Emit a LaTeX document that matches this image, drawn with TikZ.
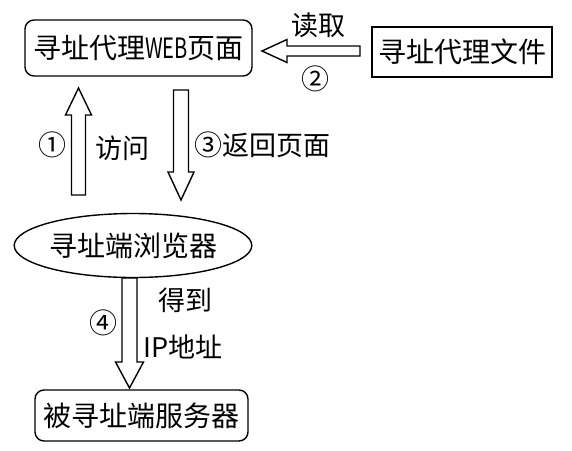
\documentclass[tikz,border=0pt]{standalone}
\usepackage{fontspec}
\setmainfont{Noto Sans CJK SC}
\usetikzlibrary{calc,shapes.geometric}
% #1 tail, #2 tip, #3 shaft half width, #4 head half width, #5 head length
\newcommand\blockarrow[5]{%
  \coordinate (bah) at ($(#2)!#5!(#1)$);
  \draw[arrowline] ($(#1)!#3!90:(#2)$) -- ($(bah)!#3!90:(#2)$) -- ($(bah)!#4!90:(#2)$)
    -- (#2) -- ($(bah)!#4!-90:(#2)$) -- ($(bah)!#3!-90:(#2)$) -- ($(#1)!#3!-90:(#2)$) -- cycle;}
\begin{document}
\begin{tikzpicture}[x=1pt,y=1pt,
  box/.style={draw, line width=1.4pt, font=\fontsize{28}{30}\selectfont, inner sep=0pt},
  lbl/.style={font=\fontsize{27}{30}\selectfont, inner sep=0pt},
  num/.style={font=\fontsize{28}{30}\selectfont, inner sep=0pt},
  arrowline/.style={draw, line width=1.4pt, line join=miter}]
\useasboundingbox (0,0) rectangle (572,-450);
\node[box, rounded corners=9pt, minimum width=227pt, minimum height=56pt] (web) at (138.5,-48) {寻址代理\scalebox{0.72}[1]{WEB}页面};
\node[box, minimum width=180pt, minimum height=50pt] (file) at (462,-52) {寻址代理文件};
\node[box, ellipse, minimum width=220pt, minimum height=64pt] (ell) at (133,-245.5) {寻址端浏览器};
\node[box, rounded corners=9pt, minimum width=213pt, minimum height=51pt] (srv) at (141.5,-415.5) {被寻址端服务器};
% connector end points
\coordinate (a2s) at (360,-51);
\coordinate (a2e) at (262,-51);
\coordinate (a1s) at (78.5,-195);
\coordinate (a1e) at (78.5,-88);
\coordinate (a3s) at (181,-90);
\coordinate (a3e) at (181,-200);
\coordinate (a4s) at (129.5,-278);
\coordinate (a4e) at (129.5,-388);
\blockarrow{a2s}{a2e}{5pt}{11.5pt}{25pt}
\blockarrow{a1s}{a1e}{7pt}{13pt}{27pt}
\blockarrow{a3s}{a3e}{7.5pt}{13pt}{28pt}
\blockarrow{a4s}{a4e}{7.5pt}{14pt}{26pt}
% labels
\node[lbl] (l2) at (318,-25) {读取};
\node[num] (n2) at (315,-79) {②};
\node[num] (n1) at (52,-145) {①};
\node[lbl] (l1) at (122,-148) {访问};
\node[lbl, anchor=west] (l3) at (194,-145) {{\fontsize{28}{30}\selectfont ③}返回页面};
\node[num] (n4) at (103,-323) {④};
\node[lbl] (l4a) at (185,-300) {得到};
\node[lbl] (l4b) at (183,-347) {IP地址};
\end{tikzpicture}
\end{document}
